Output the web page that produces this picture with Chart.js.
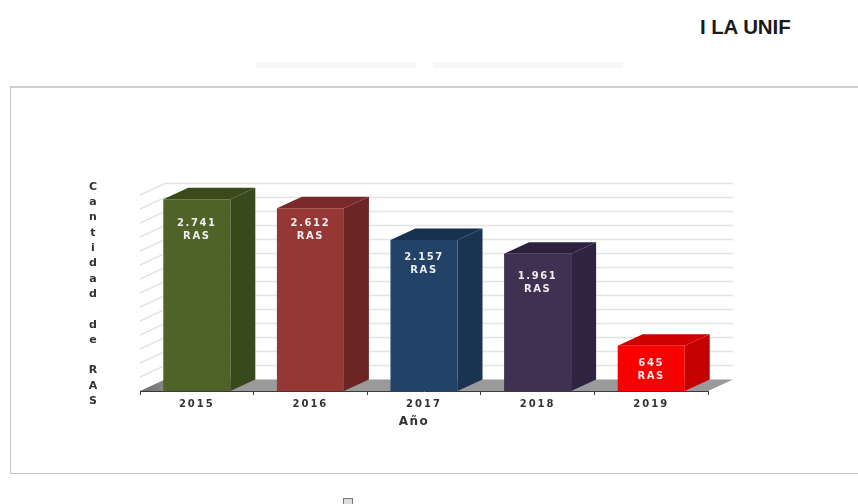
<!DOCTYPE html>
<html lang="es">
<head>
<meta charset="utf-8">
<title>Cantidad de RAS por año</title>
<script src="https://cdn.jsdelivr.net/npm/chart.js@4"></script>
<style>
  html, body { margin: 0; padding: 0; background: #fff; overflow: hidden; }
  #page { position: relative; width: 858px; height: 504px; }
  #frame { position: absolute; left: 10px; top: 86px; width: 860px; height: 385px;
           border: 1px solid #c4c4c4; border-top: 2px solid #cfcfcf; }
  #heading { position: absolute; left: 700px; top: 15px; font: bold 20.5px "Liberation Sans", sans-serif;
             color: #1a1a1a; letter-spacing: -0.1px; white-space: nowrap; }
  .faint { position: absolute; top: 62px; height: 6px; background: #f8f8f8; }
  #mark { position: absolute; left: 343px; top: 498px; width: 8px; height: 6px;
          border: 1px solid #777; border-bottom: 0; background: #ddd; }
  canvas { position: absolute; left: 0; top: 0; }
</style>
</head>
<body>
<div id="page">
  <div id="frame"></div>
  <div id="heading">I LA UNIF</div>
  <div class="faint" style="left:256px;width:160px"></div>
  <div class="faint" style="left:433px;width:190px"></div>
  <div id="mark"></div>
  <canvas id="chart" width="858" height="504"></canvas>
</div>
<script>
const years = ['2015', '2016', '2017', '2018', '2019'];
const rasCounts = [2741, 2612, 2157, 1961, 645];
const frontColors = ['#4f6228', '#953735', '#234268', '#403152', '#fb0000'];
const sideColors = ['#384a1b', '#6b2523', '#1a3350', '#2e2340', '#c40000'];
const topColors = ['#3b4a1a', '#7a2a28', '#17324f', '#2c2240', '#d00000'];
const valueAxisTitle = 'Cantidad de RAS';
const categoryAxisTitle = 'Año';
const unitLabel = 'RAS';
const yMax = 2800;
const yStep = 200;

// Extruded look: how far the back plane sits from the front plane.
const DEPTH_X = 25;
const DEPTH_Y = 11.5;
// Distance from each bar's top to the first line of its label.
const labelDrops = [24, 15, 17, 23, 18];

const withThousands = n => String(n).replace(/\B(?=(\d{3})+$)/g, '.');

function poly(ctx, pts, fill) {
  ctx.beginPath();
  pts.forEach((p, i) => i ? ctx.lineTo(p[0], p[1]) : ctx.moveTo(p[0], p[1]));
  ctx.closePath();
  ctx.fillStyle = fill;
  ctx.fill();
}

const extrusion = {
  id: 'extrusion',
  beforeDraw(chart) {
    // Tick labels on the category axis are set wide.
    chart.ctx.letterSpacing = '2px';
  },
  beforeDatasetsDraw(chart) {
    const { ctx, chartArea: a, scales: { y } } = chart;
    ctx.save();
    ctx.letterSpacing = '0px';

    // Floor of the box
    const grad = ctx.createLinearGradient(a.left, 0, a.left + DEPTH_X + 20, 0);
    grad.addColorStop(0, '#6e6e6e');
    grad.addColorStop(1, '#9a9a9a');
    poly(ctx, [[a.left, a.bottom], [a.right, a.bottom],
               [a.right + DEPTH_X, a.bottom - DEPTH_Y], [a.left + DEPTH_X, a.bottom - DEPTH_Y]], grad);

    // Grid on the left and back walls, one line per value tick
    ctx.strokeStyle = '#e4e4e4';
    ctx.lineWidth = 1.5;
    y.ticks.forEach(t => {
      if (t.value === 0) return;
      const py = y.getPixelForValue(t.value);
      ctx.beginPath();
      ctx.moveTo(a.left, py);
      ctx.lineTo(a.left + DEPTH_X, py - DEPTH_Y);
      ctx.lineTo(a.right + DEPTH_X, py - DEPTH_Y);
      ctx.stroke();
    });

    // Side and top faces of each bar
    chart.getDatasetMeta(0).data.forEach((bar, i) => {
      const l = bar.x - bar.width / 2, r = bar.x + bar.width / 2;
      poly(ctx, [[r, bar.y], [r + DEPTH_X, bar.y - DEPTH_Y],
                 [r + DEPTH_X, bar.base - DEPTH_Y], [r, bar.base]], sideColors[i]);
      poly(ctx, [[l, bar.y], [l + DEPTH_X, bar.y - DEPTH_Y],
                 [r + DEPTH_X, bar.y - DEPTH_Y], [r, bar.y]], topColors[i]);
    });
    ctx.restore();
  },
  afterDatasetsDraw(chart) {
    const { ctx } = chart;
    ctx.save();
    ctx.textAlign = 'center';
    ctx.textBaseline = 'middle';
    ctx.fillStyle = '#eeeeee';
    ctx.font = 'bold 10px "DejaVu Sans", sans-serif';
    ctx.letterSpacing = '1.6px';
    chart.getDatasetMeta(0).data.forEach((bar, i) => {
      const top = bar.y + labelDrops[i];
      ctx.fillText(withThousands(rasCounts[i]), bar.x, top);
      ctx.fillText(unitLabel, bar.x, top + 13);
    });
    ctx.restore();
  },
  afterDraw(chart) {
    const { ctx } = chart;
    ctx.save();
    ctx.textAlign = 'center';
    ctx.textBaseline = 'middle';
    ctx.fillStyle = '#333';

    // Value-axis title stacked one letter per row
    ctx.letterSpacing = '0px';
    ctx.font = 'bold 11px "DejaVu Sans", sans-serif';
    [...valueAxisTitle].forEach((ch, i) => {
      if (ch !== ' ') ctx.fillText(ch, 93, 187 + i * 15.3);
    });

    // Category-axis title, set a little left of the axis centre
    ctx.letterSpacing = '1.5px';
    ctx.font = 'bold 12px "DejaVu Sans", sans-serif';
    ctx.fillText(categoryAxisTitle, 414, 422);
    ctx.restore();
  }
};

new Chart(document.getElementById('chart'), {
  type: 'bar',
  data: {
    labels: years,
    datasets: [{
      data: rasCounts,
      backgroundColor: frontColors,
      barPercentage: 0.59,
      categoryPercentage: 1
    }]
  },
  options: {
    responsive: false,
    animation: false,
    events: [],
    layout: { padding: { left: 140, right: 150, top: 195, bottom: 75 } },
    plugins: { legend: { display: false }, tooltip: { enabled: false }, title: { display: false } },
    scales: {
      x: {
        afterFit(s) { s.height = 38; },
        border: { display: true, color: '#3a3a3a', width: 1 },
        grid: { display: true, drawOnChartArea: false, drawTicks: true, tickLength: 4, color: '#3a3a3a' },
        ticks: { color: '#333', font: { family: '"DejaVu Sans", sans-serif', weight: 'bold', size: 10 }, padding: 3, maxRotation: 0 },
        title: { display: false }
      },
      y: {
        min: 0,
        max: yMax,
        afterFit(s) { s.width = 0; },
        border: { display: false },
        grid: { display: false },
        ticks: { display: false, stepSize: yStep }
      }
    }
  },
  plugins: [extrusion]
});
</script>
</body>
</html>
